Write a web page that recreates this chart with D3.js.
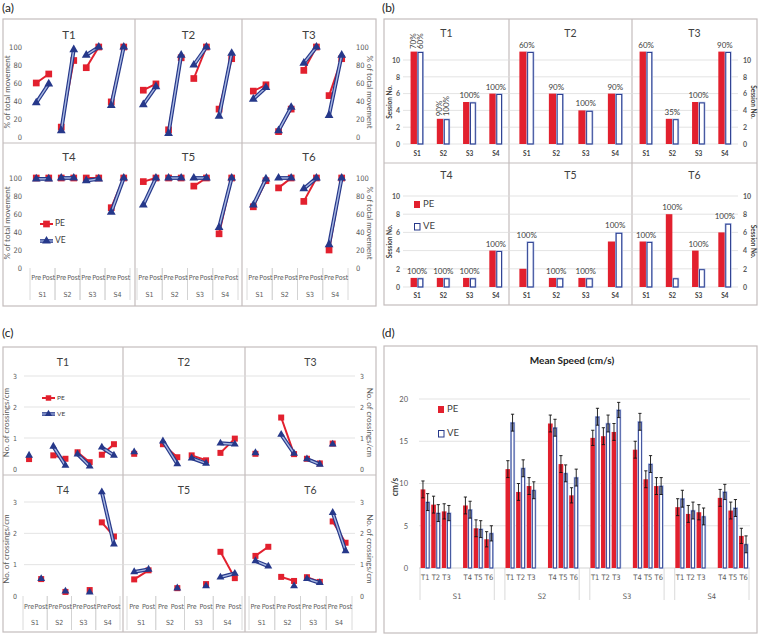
<!DOCTYPE html>
<html><head><meta charset="utf-8">
<script src="https://cdn.jsdelivr.net/npm/d3@7"></script>
<style>body{margin:0;background:#fff;} svg{display:block;font-family:Lato,'Open Sans',sans-serif;}</style>
</head><body><svg id="c" width="760" height="636"></svg>
<script>
// ---------- DATA ----------
const tasks = ["T1","T2","T3","T4","T5","T6"];
const sessions = ["S1","S2","S3","S4"];
const phases = ["Pre","Post"];

// (a) % of total movement; order: S1 Pre, S1 Post, S2 Pre, S2 Post, S3 Pre, S3 Post, S4 Pre, S4 Post
const movePE = [
  [60,70, 11,85, 77,100, 39,100],
  [52,59, 8,88, 65,100, 31,87],
  [51,58, 6,31, 74,100, 46,87],
  [100,100, 100,100, 100,100, 67,100],
  [96,100, 100,100, 91,100, 38,100],
  [68,97, 89,100, 74,100, 20,100]
];
const moveVE = [
  [38,59, 7,97, 91,100, 35,100],
  [36,56, 4,91, 80,100, 23,93],
  [42,55, 7,33, 82,100, 24,91],
  [99,99, 100,100, 97,99, 62,100],
  [70,100, 100,100, 100,100, 45,100],
  [70,99, 100,100, 88,100, 26,100]
];
const moveTicks = [0,20,40,60,80,100];

// (b) session number
const sessPE = [[11,3,5,6],[11,6,4,6],[11,3,5,11],[1,1,1,4],[2,1,1,5],[5,8,4,6]];
const sessVE = [[11,3,5,6],[11,6,4,6],[11,3,5,11],[1,1,1,4],[5,1,1,6],[5,1,2,7]];
const sessLabels = [
  [["70%","60%"],["90%","100%"],"100%","100%"],
  ["60%","90%","100%","90%"],
  ["60%","35%","100%","90%"],
  ["100%","100%","100%","100%"],
  ["100%","100%","100%","100%"],
  ["100%","100%","100%","100%"]
];
const sessTicks = [0,2,4,6,8,10];

// (c) number of crossings/cm (same order as (a))
const crossPE = [
  [0.32,null, 0.44,0.33, 0.54,0.22, 0.46,0.80],
  [0.49,null, 0.80,0.38, 0.44,0.28, 0.52,0.98],
  [0.49,null, 1.66,0.48, 0.33,0.18, 0.82,null],
  [null,0.54, null,0.13, null,0.19, 2.35,1.90],
  [0.53,0.82, null,0.25, null,0.38, 1.41,0.57],
  [1.28,1.57, 0.61,0.48, 0.60,0.45, 2.38,1.70]
];
const crossVE = [
  [0.44,null, 0.73,0.11, 0.48,0.09, 0.70,0.44],
  [0.55,null, 0.90,0.16, 0.35,0.18, 0.83,0.80],
  [0.52,null, 1.11,0.50, 0.32,0.15, 0.80,null],
  [null,0.55, null,0.15, null,0.12, 3.32,1.65],
  [0.77,0.85, null,0.25, null,0.32, 0.60,0.72],
  [1.12,0.95, null,0.32, 0.55,0.42, 2.66,1.44]
];
const crossTicks = [0,1,2,3];

// (d) mean speed (cm/s): rows = sessions, columns = T1..T6
const speedPE = [
  [9.3,7.5,6.7,7.4,4.7,3.4],
  [11.7,9.0,9.7,17.1,12.3,8.6],
  [15.4,15.6,16.1,14.0,10.5,9.7],
  [7.2,6.4,6.6,8.3,6.8,3.8]
];
const speedVE = [
  [7.8,6.5,6.5,6.9,4.6,4.1],
  [17.2,11.8,9.2,16.6,11.2,10.7],
  [17.9,17.1,18.7,17.3,12.3,9.7],
  [8.2,6.8,6.1,9.0,7.1,2.8]
];
const speedPEerr = [
  [1.0,1.0,0.9,1.0,1.0,0.9],
  [1.0,1.0,1.0,1.0,1.0,0.9],
  [0.9,1.0,1.0,1.0,1.0,1.0],
  [1.0,1.0,0.9,1.0,1.0,0.9]
];
const speedVEerr = [
  [1.0,1.0,0.9,1.0,1.0,0.9],
  [1.0,1.0,1.0,1.0,1.0,1.0],
  [1.0,1.0,0.9,1.0,1.0,1.0],
  [1.0,1.0,1.0,0.9,1.0,1.0]
];
const speedTicks = [0,5,10,15,20];

// ---------- STYLE ----------
const RED="#e2202e", BLUE="#26388a", LBLUE="#a8b8e2", FRAME="#c4bdbd", GRID="#dcdcdc", TXT="#404040", TICK="#595959";
const NARROW="'Liberation Sans Narrow','Arial Narrow','DejaVu Sans Condensed',Lato,sans-serif";
const svg = d3.select("#c");

function frame(x0,y0,x1,y1,vx,hy){
  const g=svg.append("g").attr("fill","none").attr("stroke",FRAME).attr("stroke-width",1.2);
  g.append("rect").attr("x",x0).attr("y",y0).attr("width",x1-x0).attr("height",y1-y0);
  vx.forEach(x=>g.append("line").attr("x1",x).attr("x2",x).attr("y1",y0).attr("y2",y1));
  if(hy!=null) g.append("line").attr("x1",x0).attr("x2",x1).attr("y1",hy).attr("y2",hy);
}
function text(x,y,s,o={}){
  const t=svg.append("text").attr("x",x).attr("y",y).text(s)
    .attr("font-size",o.size||8).attr("fill",o.fill||TXT)
    .attr("text-anchor",o.anchor||"middle").attr("dominant-baseline",o.base||"middle");
  if(o.weight) t.attr("font-weight",o.weight);
  if(o.family) t.attr("font-family",o.family);
  if(o.rot!=null) t.attr("transform",`rotate(${o.rot},${x},${y})`);
  return t;
}
function yAxis(scale, ticks, x, side, size, weight, family){
  const ax = (side==="left"?d3.axisLeft(scale):d3.axisRight(scale)).tickValues(ticks).tickFormat(d3.format("d")).tickSize(0).tickPadding(2);
  const g=svg.append("g").attr("transform",`translate(${x},0)`).call(ax);
  g.select(".domain").remove();
  g.selectAll("text").attr("font-size",size).attr("fill",TICK).attr("font-family",family||"Lato,'Open Sans',sans-serif");
  if(weight) g.selectAll("text").attr("font-weight",weight);
  return g;
}
function drawSeries(g, vals, x, y, isVE, symSize){
  const cx=i=>x(i)+x.bandwidth()/2;
  sessions.forEach((s,si)=>{
    const a=vals[2*si], b=vals[2*si+1];
    if(a!=null && b!=null){
      const d=d3.line()([[cx(2*si),y(a)],[cx(2*si+1),y(b)]]);
      if(isVE){
        g.append("path").attr("d",d).attr("stroke",BLUE).attr("stroke-width",3.8).attr("fill","none");
        g.append("path").attr("d",d).attr("stroke",LBLUE).attr("stroke-width",1.4).attr("fill","none");
      } else {
        g.append("path").attr("d",d).attr("stroke",RED).attr("stroke-width",2).attr("fill","none");
      }
    }
  });
  vals.forEach((v,i)=>{
    if(v==null) return;
    g.append("path").attr("d",d3.symbol(isVE?d3.symbolTriangle:d3.symbolSquare, isVE?symSize*0.75:symSize)())
      .attr("transform",`translate(${cx(i)},${y(v)})`).attr("fill",isVE?BLUE:RED);
  });
}
function catAxisPrePost(x, y0, yPre, yS, yEnd, size){
  const g=svg.append("g");
  sessions.forEach((s,si)=>{
    const xs=x(2*si), xe=x(2*si+1)+x.bandwidth();
    [xs,xe].forEach(xx=>g.append("line").attr("x1",xx).attr("x2",xx).attr("y1",y0).attr("y2",yEnd).attr("stroke","#d0d0d0").attr("stroke-width",0.8));
    phases.forEach((p,pi)=>text(x(2*si+pi)+x.bandwidth()/2, yPre, p, {size:size, fill:TICK, family:NARROW}));
    text((xs+xe)/2, yS, s, {size:size, fill:TICK, family:NARROW});
  });
}
function legendLine(x, y, label, isVE, size, fs){
  const d=d3.line()([[x,y],[x+13,y]]);
  if(isVE){
    svg.append("path").attr("d",d).attr("stroke",BLUE).attr("stroke-width",3.6).attr("fill","none");
    svg.append("path").attr("d",d).attr("stroke",LBLUE).attr("stroke-width",1.3).attr("fill","none");
  } else svg.append("path").attr("d",d).attr("stroke",RED).attr("stroke-width",2).attr("fill","none");
  svg.append("path").attr("d",d3.symbol(isVE?d3.symbolTriangle:d3.symbolSquare,isVE?size*0.75:size)())
    .attr("transform",`translate(${x+6.5},${y})`).attr("fill",isVE?BLUE:RED);
  text(x+15, y, label, {size:fs, anchor:"start"});
}

// ---------- PANEL (a) ----------
text(2,9,"(a)",{size:12,anchor:"start",fill:"#222"});
frame(3,19,376,306,[135,242],143);
{
  const colX=[[30,130],[137,238],[247,348]];
  const rowY=[[137,47],[268,178]];
  const boxX=[[3,135],[135,242],[242,376]];
  const titleY=[36,158];
  tasks.forEach((t,i)=>{
    const col=i%3,row=Math.floor(i/3);
    const x=d3.scaleBand().domain(d3.range(8)).range(colX[col]);
    const y=d3.scaleLinear().domain([0,100]).range(rowY[row]);
    text((boxX[col][0]+boxX[col][1])/2, titleY[row], t, {size:11.5});
    if(col===0){ yAxis(y,moveTicks,24,"left",7.5,null,NARROW);
      text(8,(rowY[row][0]+rowY[row][1])/2,"% of total movement",{size:8,rot:-90,fill:TICK}); }
    if(col===2){ yAxis(y,moveTicks,354,"right",7.5,null,NARROW);
      text(369,(rowY[row][0]+rowY[row][1])/2,"% of total movement",{size:8,rot:90,fill:TICK}); }
    if(row===1) catAxisPrePost(x,268,278,295,300,7);
    const g=svg.append("g");
    drawSeries(g,movePE[i],x,y,false,45);
    drawSeries(g,moveVE[i],x,y,true,45);
  });
  legendLine(40,224,"PE",false,45,8.5);
  legendLine(40,241,"VE",true,45,8.5);
}

// ---------- PANEL (b) ----------
text(382,9,"(b)",{size:12,anchor:"start",fill:"#222"});
frame(384,19,757,305,[509,632],163);
{
  const colX=[[404,509],[512,630],[633,738]];
  const rowY=[[144,60],[287,196]];
  const boxX=[[384,509],[509,632],[632,757]];
  const titleY=[34,176];
  const labY=[154,296];
  [0,1].forEach(row=>{
    const y=d3.scaleLinear().domain([0,10]).range(rowY[row]);
    sessTicks.forEach(v=>svg.append("line").attr("x1",403).attr("x2",738).attr("y1",y(v)).attr("y2",y(v)).attr("stroke",GRID).attr("stroke-width",0.8));
    yAxis(y,sessTicks,402,"left",7,"bold");
    yAxis(y,sessTicks,741,"right",7,"bold");
    text(390,(rowY[row][0]+rowY[row][1])/2,"Session No.",{size:6.5,rot:-90,weight:"bold",fill:TXT});
    text(753,(rowY[row][0]+rowY[row][1])/2,"Session No.",{size:6.5,rot:90,weight:"bold",fill:TXT});
  });
  tasks.forEach((t,i)=>{
    const col=i%3,row=Math.floor(i/3);
    const x=d3.scaleBand().domain(sessions).range(colX[col]);
    const y=d3.scaleLinear().domain([0,10]).range(rowY[row]);
    text((boxX[col][0]+boxX[col][1])/2, titleY[row], t, {size:10.5});
    const bw=x.step()*0.25;
    sessions.forEach((s,si)=>{
      const c=x(s)+x.bandwidth()/2;
      text(c,labY[row],s,{size:6.5,weight:"bold",fill:TXT});
      const pe=sessPE[i][si], ve=sessVE[i][si];
      svg.append("rect").attr("x",c-bw).attr("y",y(pe)).attr("width",bw).attr("height",y(0)-y(pe)).attr("fill",RED);
      svg.append("rect").attr("x",c+0.6).attr("y",y(ve)+0.6).attr("width",bw-1.2).attr("height",y(0)-y(ve)-0.6)
        .attr("fill","#fff").attr("stroke",LBLUE).attr("stroke-width",1.6);
      svg.append("rect").attr("x",c+0.9).attr("y",y(ve)+0.9).attr("width",bw-1.8).attr("height",y(0)-y(ve)-0.9)
        .attr("fill","none").attr("stroke",BLUE).attr("stroke-width",0.9);
      const lab=sessLabels[i][si];
      if(Array.isArray(lab)){
        text(c-bw/2+0.3, y(pe)-2.5, lab[0], {size:8, anchor:"start", rot:-90, fill:TXT});
        text(c+bw/2+0.3, y(ve)-2.5, lab[1], {size:8, anchor:"start", rot:-90, fill:TXT});
      } else {
        text(c, y(Math.max(pe,ve))-6, lab, {size:8, fill:TXT});
      }
    });
  });
  // legend
  svg.append("rect").attr("x",414).attr("y",201).attr("width",6).attr("height",7).attr("fill",RED);
  text(423,204.5,"PE",{size:9.5,anchor:"start"});
  svg.append("rect").attr("x",414.5).attr("y",223.5).attr("width",5.5).attr("height",6.5).attr("fill","#fff").attr("stroke",BLUE).attr("stroke-width",1);
  text(423,227,"VE",{size:9.5,anchor:"start"});
}

// ---------- PANEL (c) ----------
text(2,334,"(c)",{size:12,anchor:"start",fill:"#222"});
frame(3,347,376,632,[123,245],475);
{
  const colX=[[23,120],[127,242],[249,352]];
  const rowY=[[469,376],[596,502]];
  const boxX=[[3,123],[123,245],[245,376]];
  const titleY=[363,491];
  [0,1].forEach(row=>{
    const y=d3.scaleLinear().domain([0,3]).range(rowY[row]);
    crossTicks.slice(1).forEach(v=>svg.append("line").attr("x1",24).attr("x2",355).attr("y1",y(v)).attr("y2",y(v)).attr("stroke",GRID).attr("stroke-width",0.8));
    yAxis(y,crossTicks,19,"left",7,null,NARROW);
    yAxis(y,crossTicks,358,"right",7,null,NARROW);
    text(7,(rowY[row][0]+rowY[row][1])/2,"No. of crossings/cm",{size:8,rot:-90,fill:TICK});
    text(369,(rowY[row][0]+rowY[row][1])/2,"No. of crossings/cm",{size:8,rot:90,fill:TICK});
  });
  tasks.forEach((t,i)=>{
    const col=i%3,row=Math.floor(i/3);
    const x=d3.scaleBand().domain(d3.range(8)).range(colX[col]);
    const y=d3.scaleLinear().domain([0,3]).range(rowY[row]);
    text((boxX[col][0]+boxX[col][1])/2, titleY[row], t, {size:10.5});
    if(row===1) catAxisPrePost(x,596,607,623,630,7);
    const g=svg.append("g");
    drawSeries(g,crossPE[i],x,y,false,36);
    drawSeries(g,crossVE[i],x,y,true,36);
  });
  legendLine(42,398,"PE",false,30,6.5);
  legendLine(42,414,"VE",true,30,6.5);
}

// ---------- PANEL (d) ----------
text(382,334,"(d)",{size:12,anchor:"start",fill:"#222"});
frame(384,346,757,633,[],null);
{
  const y=d3.scaleLinear().domain([0,20]).range([568,399]);
  const x=d3.scaleBand().domain(d3.range(31)).range([420,749]);
  const slot=(s,t)=>s*8+(t<3?t:t+1);
  text(572,361,"Mean Speed (cm/s)",{size:10,weight:"bold",fill:"#222"});
  speedTicks.slice(1).forEach(v=>svg.append("line").attr("x1",419).attr("x2",750).attr("y1",y(v)).attr("y2",y(v)).attr("stroke",GRID).attr("stroke-width",0.8));
  svg.append("line").attr("x1",419).attr("x2",750).attr("y1",y(0)).attr("y2",y(0)).attr("stroke","#c8c8c8").attr("stroke-width",0.8);
  yAxis(y,speedTicks,410,"left",7.5);
  text(396,487,"cm/s",{size:8.5,rot:-90,weight:"bold",fill:TXT});
  const bw=4.7;
  sessions.forEach((s,si)=>{
    const xs=x(slot(si,0)), xe=x(slot(si,5))+x.bandwidth();
    [xs,xe].forEach(xx=>svg.append("line").attr("x1",xx).attr("x2",xx).attr("y1",568).attr("y2",600).attr("stroke","#d0d0d0").attr("stroke-width",0.8));
    text((xs+xe)/2,597,s,{size:7.5,fill:TICK,family:NARROW});
    tasks.forEach((t,ti)=>{
      const c=x(slot(si,ti))+x.bandwidth()/2;
      text(c,578,t,{size:7.5,fill:TICK,family:NARROW});
      const pe=speedPE[si][ti], ve=speedVE[si][ti], pe_e=speedPEerr[si][ti], ve_e=speedVEerr[si][ti];
      svg.append("rect").attr("x",c-bw).attr("y",y(pe)).attr("width",bw).attr("height",y(0)-y(pe)).attr("fill",RED);
      svg.append("rect").attr("x",c+0.5).attr("y",y(ve)).attr("width",bw-1).attr("height",y(0)-y(ve))
        .attr("fill","#fff").attr("stroke",LBLUE).attr("stroke-width",1.4);
      svg.append("rect").attr("x",c+0.9).attr("y",y(ve)).attr("width",bw-1.8).attr("height",y(ve-ve_e)-y(ve)).attr("fill","#a9adb8");
      svg.append("rect").attr("x",c+0.9).attr("y",y(ve)+0.4).attr("width",bw-1.8).attr("height",y(0)-y(ve)-0.4)
        .attr("fill","none").attr("stroke",BLUE).attr("stroke-width",0.8);
      [[c-bw/2,pe,pe_e],[c+bw/2,ve,ve_e]].forEach(([cx,v,e])=>{
        const g=svg.append("g").attr("stroke","#111").attr("stroke-width",0.9);
        g.append("line").attr("x1",cx).attr("x2",cx).attr("y1",y(v-e)).attr("y2",y(v+e));
        g.append("line").attr("x1",cx-1.6).attr("x2",cx+1.6).attr("y1",y(v+e)).attr("y2",y(v+e));
        g.append("line").attr("x1",cx-1.6).attr("x2",cx+1.6).attr("y1",y(v-e)).attr("y2",y(v-e));
      });
    });
  });
  svg.append("rect").attr("x",438).attr("y",406).attr("width",6).attr("height",7).attr("fill",RED);
  text(447,409.5,"PE",{size:9.5,anchor:"start"});
  svg.append("rect").attr("x",438.5).attr("y",430.5).attr("width",5.5).attr("height",6.5).attr("fill","#fff").attr("stroke",BLUE).attr("stroke-width",1);
  text(447,434,"VE",{size:9.5,anchor:"start"});
}
</script></body></html>
